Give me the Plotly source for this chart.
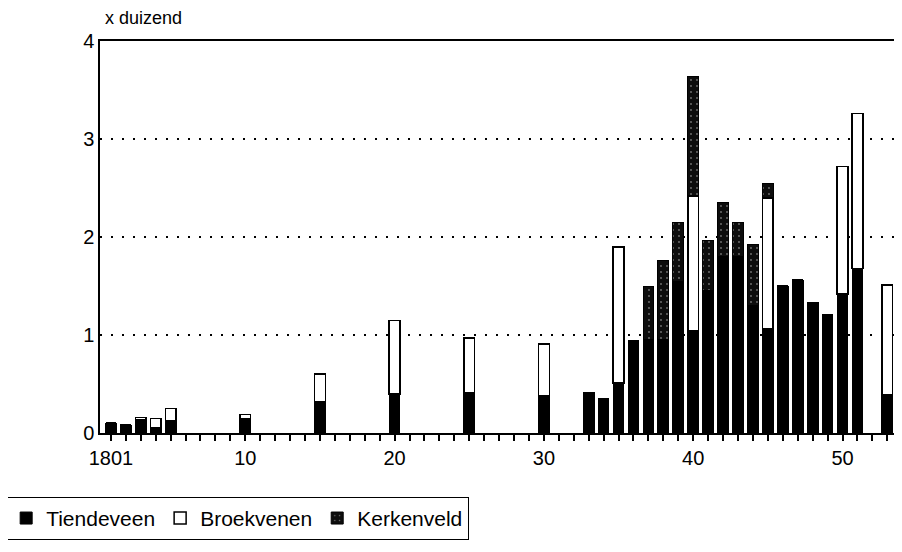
import plotly.graph_objects as go

years = [1801, 1802, 1803, 1804, 1805, 1810, 1815, 1820, 1825, 1830,
         1833, 1834, 1835, 1836, 1837, 1838, 1839, 1840, 1841, 1842,
         1843, 1844, 1845, 1846, 1847, 1848, 1849, 1850, 1851, 1853]

tiendeveen = [0.10, 0.08, 0.14, 0.05, 0.12, 0.15, 0.32, 0.40, 0.41, 0.38,
              0.41, 0.35, 0.51, 0.94, 0.95, 0.95, 1.55, 1.04, 1.45, 1.80,
              1.80, 1.30, 1.06, 1.50, 1.56, 1.33, 1.21, 1.42, 1.68, 0.39]

broekvenen = [0.00, 0.00, 0.02, 0.10, 0.13, 0.04, 0.28, 0.75, 0.56, 0.53,
              0.00, 0.00, 1.39, 0.00, 0.00, 0.00, 0.00, 1.38, 0.00, 0.00,
              0.00, 0.00, 1.34, 0.00, 0.00, 0.00, 0.00, 1.30, 1.58, 1.12]

kerkenveld = [0.00, 0.00, 0.00, 0.00, 0.00, 0.00, 0.00, 0.00, 0.00, 0.00,
              0.00, 0.00, 0.00, 0.00, 0.55, 0.81, 0.60, 1.22, 0.51, 0.55,
              0.35, 0.62, 0.15, 0.00, 0.00, 0.00, 0.00, 0.00, 0.00, 0.00]

tick_years = list(range(1801, 1854))
tick_text = {1801: "1801", 1810: "10", 1820: "20", 1830: "30", 1840: "40", 1850: "50"}
tick_labels = [tick_text.get(y, "") for y in tick_years]

FONT = "Liberation Sans, Arial, sans-serif"
BW = 0.72

fig = go.Figure()
fig.add_trace(go.Bar(
    x=years, y=tiendeveen, name="Tiendeveen", width=BW,
    marker=dict(color="black", line=dict(color="black", width=1)),
))
fig.add_trace(go.Bar(
    x=years, y=broekvenen, name="Broekvenen", width=BW,
    marker=dict(color="white", line=dict(color="black", width=1.5)),
))
fig.add_trace(go.Bar(
    x=years, y=kerkenveld, name="Kerkenveld", width=BW,
    marker=dict(color="#0d0d0d", line=dict(color="black", width=1),
                pattern=dict(shape=".", fgcolor="#e0e0e0", bgcolor="#0d0d0d",
                             size=6, solidity=0.07)),
))

fig.update_layout(
    barmode="stack",
    width=894, height=544,
    margin=dict(l=92, r=5, t=33, b=119, autoexpand=False),
    paper_bgcolor="white", plot_bgcolor="white",
    font=dict(family=FONT, size=19, color="black"),
    showlegend=True,
    legend=dict(
        orientation="h", traceorder="normal",
        x=-0.119, xanchor="left", y=-0.163, yanchor="top",
        bordercolor="black", borderwidth=1,
        font=dict(family=FONT, size=21, color="black"),
        itemwidth=30,
    ),
    xaxis=dict(
        range=[1800.27, 1853.65],
        tickmode="array", tickvals=tick_years, ticktext=tick_labels,
        ticks="outside", ticklen=6, tickcolor="black", tickwidth=1.5,
        showline=True, linecolor="black", linewidth=1.5, mirror=True,
        showgrid=False, zeroline=False,
        tickfont=dict(family=FONT, size=20, color="black"),
    ),
    yaxis=dict(
        range=[0, 4], tickvals=[0, 1, 2, 3, 4],
        showline=True, linecolor="black", linewidth=1.5, mirror=True,
        showgrid=True, gridcolor="black", griddash="2px,9px", gridwidth=1.5,
        zeroline=False, ticks="",
        tickfont=dict(family=FONT, size=20, color="black"),
    ),
    annotations=[dict(
        text="x duizend", xref="paper", yref="paper",
        x=0.004, y=1.058, xanchor="left", yanchor="middle",
        showarrow=False, font=dict(family=FONT, size=18, color="black"),
    )],
)

fig.write_html("out.html")
